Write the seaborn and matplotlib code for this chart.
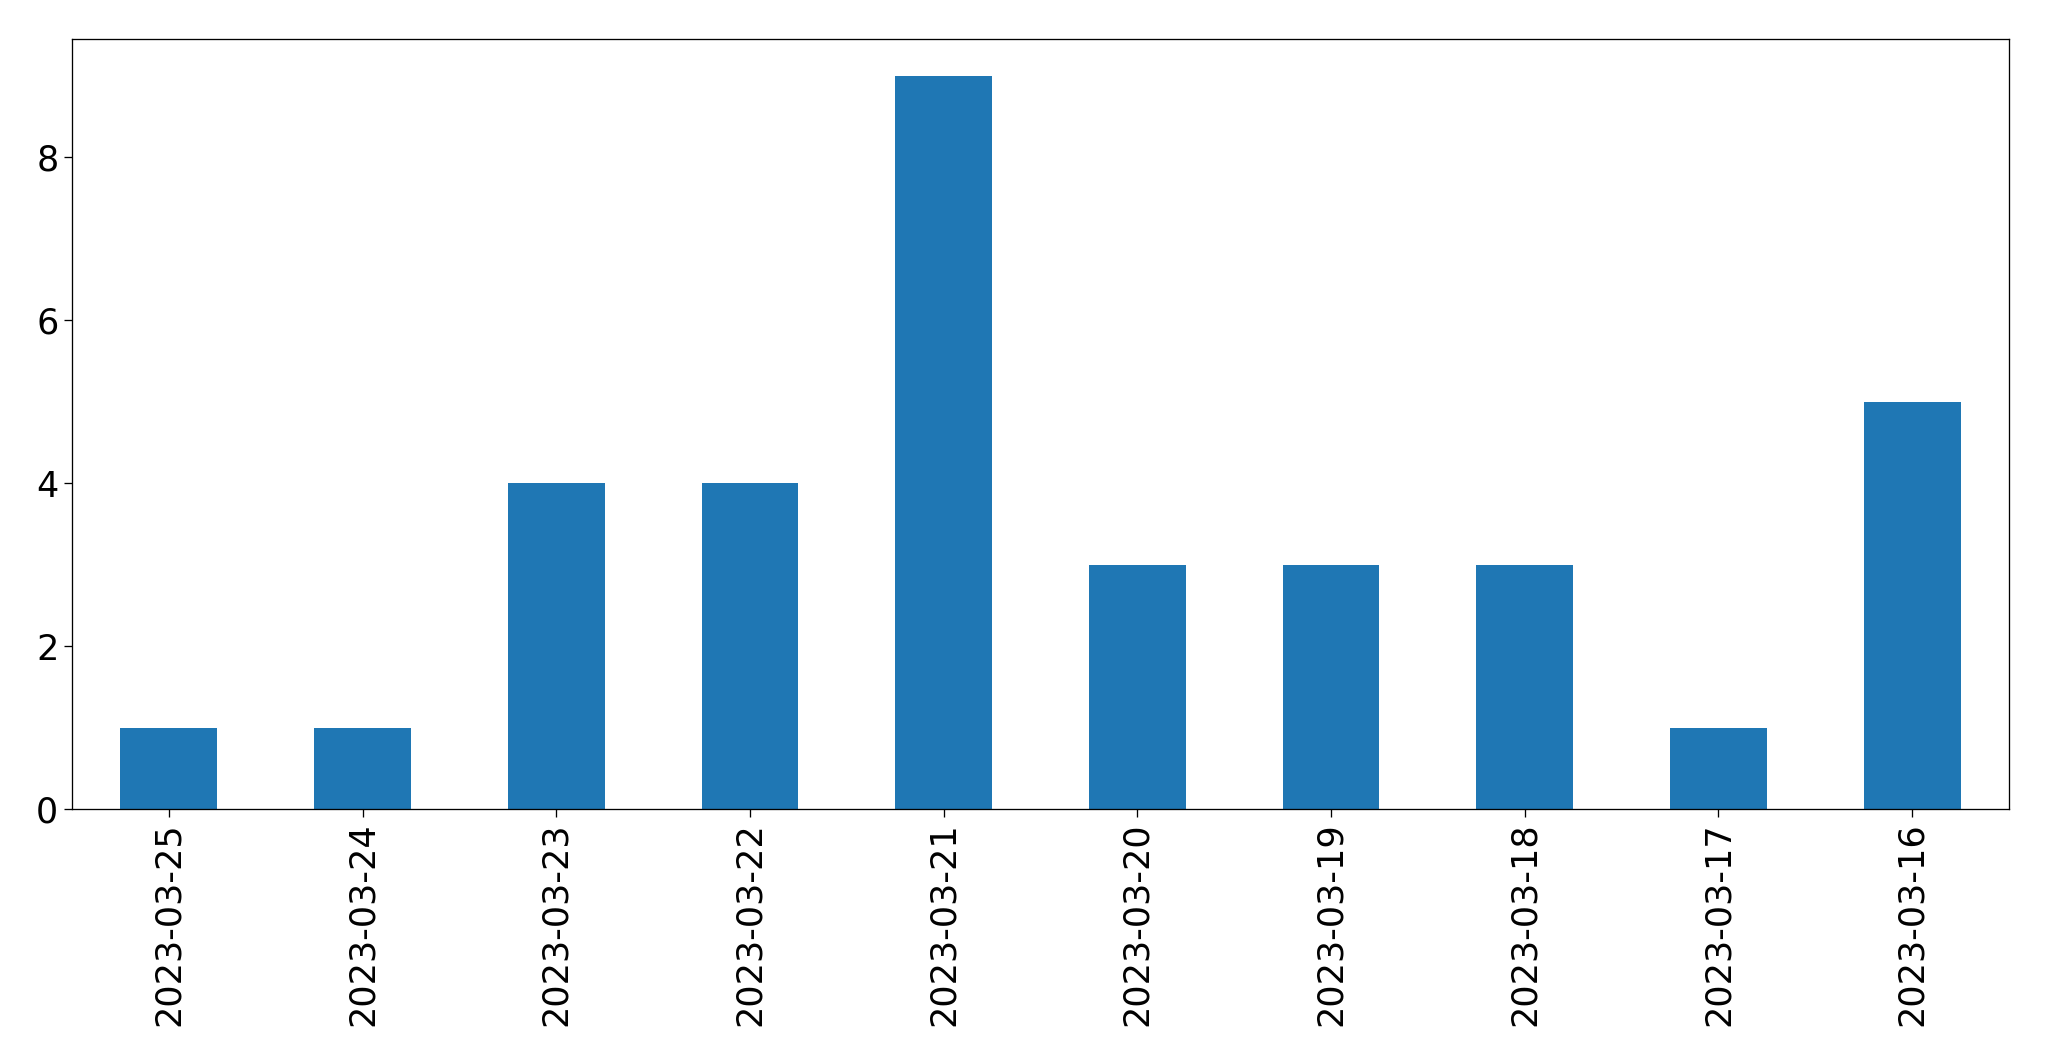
import matplotlib
matplotlib.use("Agg")
import matplotlib.pyplot as plt
import seaborn as sns
import pandas as pd

dates = ["2023-03-25", "2023-03-24", "2023-03-23", "2023-03-22", "2023-03-21",
         "2023-03-20", "2023-03-19", "2023-03-18", "2023-03-17", "2023-03-16"]
counts = [1, 1, 4, 4, 9, 3, 3, 3, 1, 5]

df = pd.DataFrame({"date": dates, "count": counts})

plt.rcParams['font.family'] = ['DejaVu Sans']
fig = plt.figure(figsize=(20.49, 10.61), dpi=100)
ax = fig.add_axes([72/2049, 1 - 809/1061, (2009 - 72)/2049, (809 - 39)/1061])

sns.barplot(data=df, x="date", y="count", order=dates, color="#1f77b4",
            saturation=1, width=0.5, ax=ax)

ax.set_xlabel("")
ax.set_ylabel("")
ax.set_xlim(-0.5, len(dates) - 0.5)
ax.set_ylim(0, 9.45)
ax.set_yticks([0, 2, 4, 6, 8])
ax.tick_params(axis="both", labelsize=25.2, length=5.7, width=0.94, pad=4.1)
ax.tick_params(axis="x", labelrotation=90)
for s in ax.spines.values():
    s.set_visible(True)
    s.set_linewidth(0.94)
    s.set_color("black")

fig.savefig("out.png", dpi=100, facecolor="white")
